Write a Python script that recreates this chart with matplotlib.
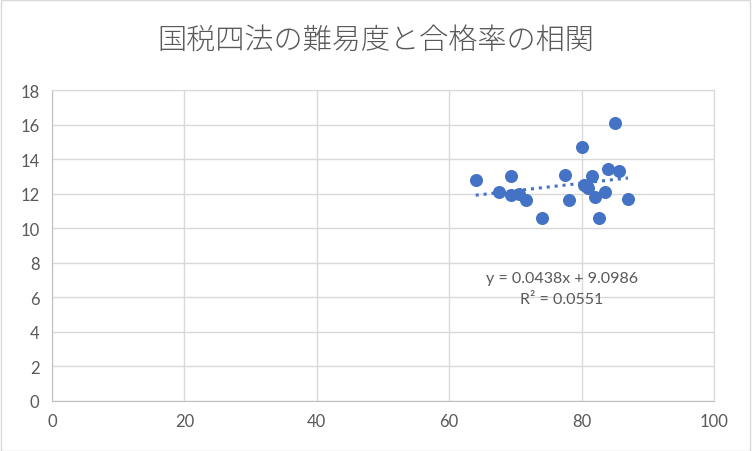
import numpy as np
import matplotlib.pyplot as plt
from matplotlib.patches import Rectangle

plt.rcParams['font.family'] = ['Lato', 'Noto Sans CJK JP', 'DejaVu Sans']

# 難易度 (x) と 合格率 (y)
difficulty = [64.0, 69.4, 67.5, 69.4, 70.6, 71.6, 74.0, 77.5, 78.1, 80.1,
              85.0, 80.4, 81.5, 81.0, 80.8, 82.0, 82.6, 83.6, 84.0, 85.6, 87.0]
pass_rate = [12.8, 13.0, 12.1, 11.9, 12.0, 11.6, 10.6, 13.1, 11.6, 14.7,
             16.1, 12.5, 13.0, 12.3, 12.45, 11.8, 10.6, 12.1, 13.4, 13.3, 11.7]

title = '国税四法の難易度と合格率の相関'
eq_text = 'y = 0.0438x + 9.0986'
r2_text = 'R² = 0.0551'

blue = '#4472C4'
grid = '#D9D9D9'
txt = '#595959'

fig = plt.figure(figsize=(7.52, 4.52), dpi=100)
fig.patches.append(Rectangle((0.001, 0.001), 0.997, 0.997, transform=fig.transFigure,
                             fill=False, edgecolor='#D9D9D9', linewidth=1))
ax = fig.add_axes([52 / 752, 50.3 / 452, 662 / 752, 310.7 / 452])

ax.scatter(difficulty, pass_rate, s=88, color=blue, zorder=3, linewidths=0)

# linear trendline over data range
coef = np.polyfit(difficulty, pass_rate, 1)
xs = np.linspace(min(difficulty), max(difficulty), 50)
ax.plot(xs, np.polyval(coef, xs), color=blue, linestyle=(0, (1, 1.6)),
        linewidth=2.2, zorder=2)

ax.set_xlim(0, 100)
ax.set_ylim(0, 18)
ax.set_xticks(np.arange(0, 101, 20))
ax.set_yticks(np.arange(0, 19, 2))
ax.grid(True, color=grid, linewidth=1)
ax.set_axisbelow(True)
for s in ax.spines.values():
    s.set_color(grid)
ax.spines['left'].set_color('#BFBFBF')
ax.spines['bottom'].set_color('#BFBFBF')
ax.tick_params(length=0, labelsize=12, labelcolor=txt, pad=9)

fig.text(0.5, 1 - 40 / 452, title, ha='center', va='center', fontsize=21,
         color=txt, fontweight='light', family=['Noto Sans CJK JP', 'DejaVu Sans'])
ax.text(77, 7.1, eq_text, ha='center', va='center', fontsize=11.5, color=txt)
ax.text(77, 5.9, r2_text, ha='center', va='center', fontsize=11.5, color=txt)

fig.savefig('out.png', dpi=100)
